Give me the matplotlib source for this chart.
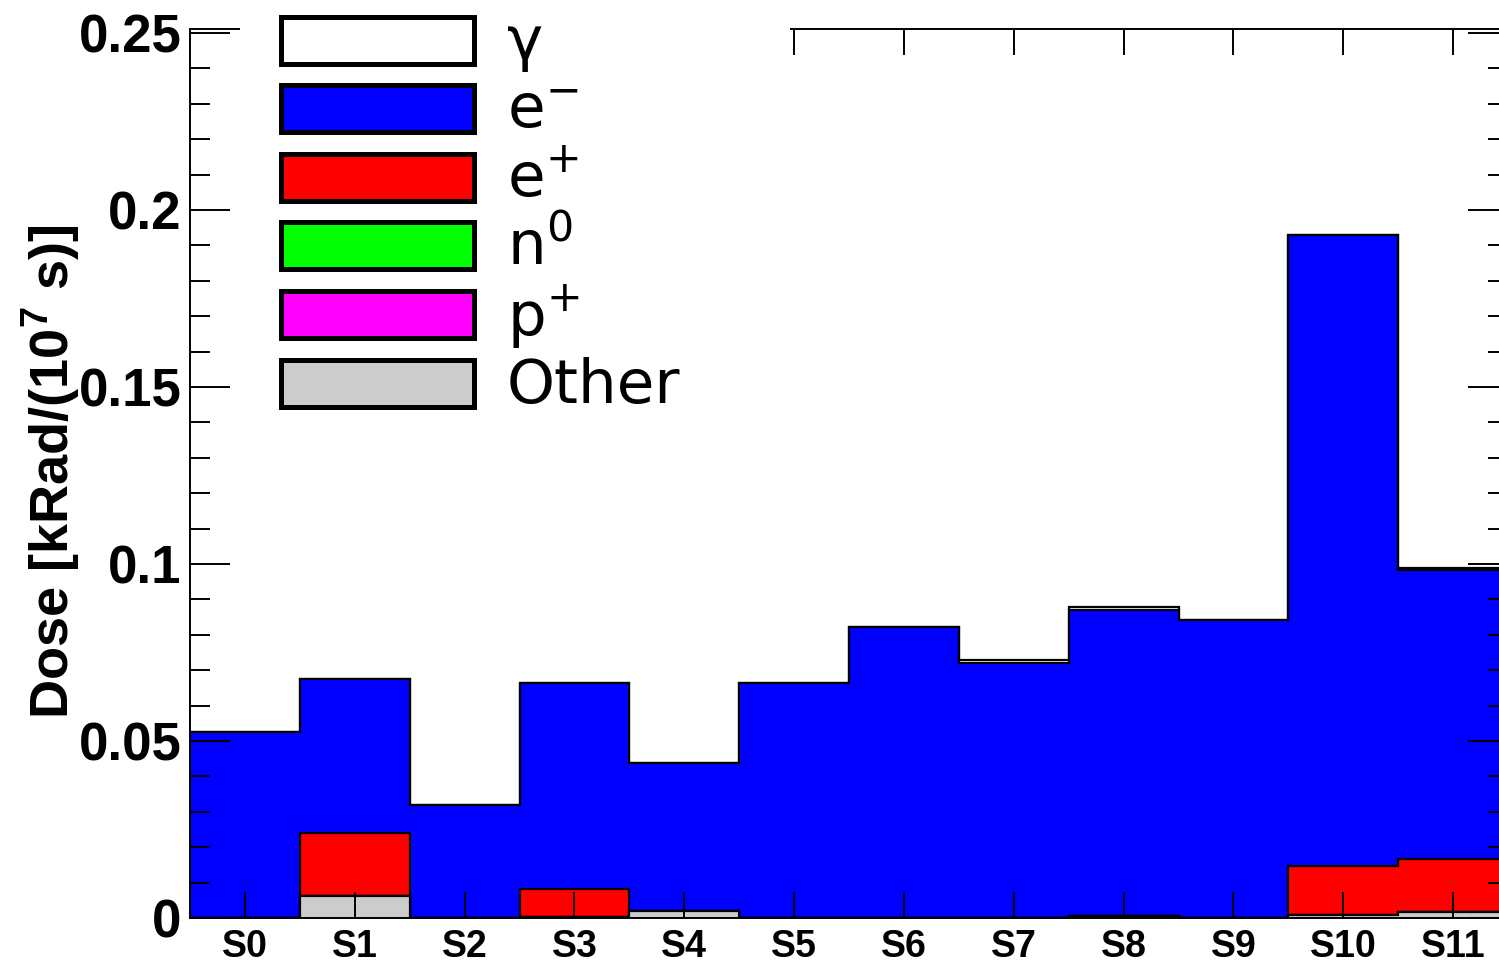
import numpy as np
import matplotlib.pyplot as plt
from matplotlib.patches import Rectangle
from matplotlib.ticker import MultipleLocator, FuncFormatter

plt.rcParams['font.family'] = ['Liberation Sans', 'DejaVu Sans']
plt.rcParams['font.weight'] = 'bold'

# Dose per station, kRad/(1e7 s), split by particle type
stations = ['S0', 'S1', 'S2', 'S3', 'S4', 'S5', 'S6', 'S7', 'S8', 'S9', 'S10', 'S11']
gamma = [0, 0, 0, 0, 0, 0, 0, 0.0007, 0.0007, 0, 0, 0.0005]
e_minus = [0.0526, 0.0434, 0.0318, 0.0581, 0.0417, 0.0664, 0.0822, 0.0721, 0.0866, 0.0842, 0.1783, 0.0817]
e_plus = [0, 0.0178, 0, 0.0080, 0, 0, 0, 0, 0, 0, 0.0138, 0.0148]
n0 = [0] * 12
p_plus = [0] * 12
other = [0, 0.0063, 0, 0.0003, 0.0020, 0, 0, 0, 0.0005, 0, 0.0009, 0.0018]

labels = ['γ', r'$\mathregular{e^{-}}$', r'$\mathregular{e^{+}}$',
          r'$\mathregular{n^{0}}$', r'$\mathregular{p^{+}}$', 'Other']
colors = ['white', '#0000ff', '#ff0000', '#00ff00', '#ff00ff', '#cccccc']

W, H = 1499, 960
fig = plt.figure(figsize=(W / 100, H / 100), dpi=100)
ax = fig.add_axes([190 / W, 42 / H, 1318 / W, 889 / H])

# stack from bottom (Other) to top (gamma), draw tallest first like THStack
layers = np.array([other, p_plus, n0, e_plus, e_minus, gamma])
layer_colors = colors[::-1]
cum = np.cumsum(layers, axis=0)
edges = np.arange(len(stations) + 1)
for i in reversed(range(len(layers))):
    ax.stairs(cum[i], edges, baseline=0, fill=True, facecolor=layer_colors[i],
              edgecolor='black', linewidth=1.6)

ax.set_xlim(0, len(stations))
ax.set_ylim(0, 0.2511)
ax.set_xticks(edges[:-1] + 0.5, stations)
ax.yaxis.set_major_locator(MultipleLocator(0.05))
ax.yaxis.set_minor_locator(MultipleLocator(0.01))
ax.yaxis.set_major_formatter(FuncFormatter(lambda v, p: '%g' % round(v, 3)))

ax.tick_params(axis='x', which='both', direction='in', length=19, width=1.4,
               top=True, bottom=True, labelsize=27, pad=8)
ax.tick_params(axis='y', which='major', direction='in', length=29, width=1.4,
               left=True, right=True, labelsize=38, pad=6)
ax.tick_params(axis='y', which='minor', direction='in', length=14.5, width=1.4,
               left=True, right=True)
for s in ax.spines.values():
    s.set_linewidth(1.4)

ax.set_ylabel(r'Dose [kRad/(10$\mathregular{^{7}}$ s)]', fontsize=39, fontweight='bold',
              va='center')
ax.yaxis.set_label_coords((52 - 190) / 1318, (918 - 472) / 889)

# legend box (white, no border) that hides part of the top frame
fig.add_artist(Rectangle((240 / W, 1 - 425 / H), 550 / W, 425 / H,
                         transform=fig.transFigure, facecolor='white',
                         edgecolor='none', zorder=3))
for k, (lab, col) in enumerate(zip(labels, colors)):
    yc = 40 + 68.6 * k
    fig.add_artist(Rectangle((280.5 / W, 1 - (yc + 23.5) / H), 193 / W, 47 / H,
                             transform=fig.transFigure, facecolor=col,
                             edgecolor='black', linewidth=3.6, zorder=4))
    fig.text(507 / W, 1 - (yc + 3) / H, lab, fontsize=44, fontweight='normal',
             family=['DejaVu Sans'], va='center', ha='left', zorder=5)

fig.savefig('out.png', dpi=100)
